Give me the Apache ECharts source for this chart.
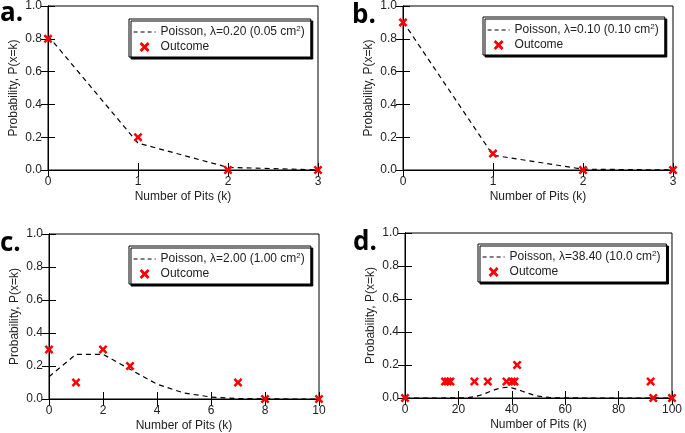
<!DOCTYPE html>
<html>
<head>
<meta charset="utf-8">
<script src="https://cdn.jsdelivr.net/npm/echarts@6/dist/echarts.min.js"></script>
<style>
html,body{margin:0;padding:0;background:#fff;}
#chart{width:685px;height:433px;}
</style>
</head>
<body>
<div id="chart"></div>
<script>
// ---- Data ----
const panelLabels = ['a.', 'b.', 'c.', 'd.'];
const poissonNames = [
  ['Poisson, λ=0.20 (0.05 cm', ')'],
  ['Poisson, λ=0.10 (0.10 cm', ')'],
  ['Poisson, λ=2.00 (1.00 cm', ')'],
  ['Poisson, λ=38.40 (10.0 cm', ')']
];
const yTicks = [0, 0.2, 0.4, 0.6, 0.8, 1.0];

const aK = [0, 1, 2, 3];
const aPoisson = [0.819, 0.164, 0.016, 0.001];
const aOutK = [0, 1, 2, 3];
const aOutcome = [0.8, 0.2, 0.0, 0.0];

const bK = [0, 1, 2, 3];
const bPoisson = [0.905, 0.090, 0.005, 0.0];
const bOutK = [0, 1, 2, 3];
const bOutcome = [0.9, 0.1, 0.0, 0.0];

const cK = [0, 1, 2, 3, 4, 5, 6, 7, 8, 9, 10];
const cPoisson = [0.135, 0.271, 0.271, 0.180, 0.090, 0.036, 0.012, 0.003, 0.001, 0.0, 0.0];
const cOutK = [0, 1, 2, 3, 7, 8, 10];
const cOutcome = [0.3, 0.1, 0.3, 0.2, 0.1, 0.0, 0.0];

const dK = [0, 10, 20, 22, 24, 26, 28, 30, 32, 34, 36, 38, 40, 42, 44, 46, 48, 50, 52, 54, 56, 58, 60, 70, 80, 90, 100];
const dPoisson = [0.0, 0.0, 0.0004, 0.0013, 0.0036, 0.0081, 0.0159, 0.0269, 0.0400, 0.0526, 0.0615, 0.0645, 0.0610, 0.0522, 0.0407, 0.0290, 0.0190, 0.0114, 0.0063, 0.0033, 0.0016, 0.0007, 0.0003, 0.0, 0.0, 0.0, 0.0];
const dOutK = [0, 15, 16, 17, 26, 31, 38, 40, 41, 42, 92, 93, 100];
const dOutcome = [0.0, 0.1, 0.1, 0.1, 0.1, 0.1, 0.1, 0.1, 0.1, 0.2, 0.1, 0.0, 0.0];

const xRanges = [[0, 3, 1], [0, 3, 1], [0, 10, 2], [0, 100, 20]];

// ---- Layout (positions / styles) ----
const grids = [
  {left: 48, top: 5, width: 270, height: 165},
  {left: 403, top: 5, width: 270, height: 165},
  {left: 49, top: 234, width: 270, height: 165},
  {left: 405, top: 233, width: 269, height: 165}
];
const legendPos = [
  {left: 129, top: 19},
  {left: 483, top: 17},
  {left: 129, top: 246},
  {left: 478, top: 244}
];
const labelPos = [[0, 25], [352, 27], [0, 255], [353, 254]];

const pairs = [
  [aK, aPoisson, aOutK, aOutcome],
  [bK, bPoisson, bOutK, bOutcome],
  [cK, cPoisson, cOutK, cOutcome],
  [dK, dPoisson, dOutK, dOutcome]
];

const FONT = 'Liberation Sans, Arial, sans-serif';
const crossPath = 'path://M0,2 L2,0 L5,3 L8,0 L10,2 L7,5 L10,8 L8,10 L5,7 L2,10 L0,8 L3,5 Z';

const option = {
  animation: false,
  backgroundColor: '#fff',
  grid: [], xAxis: [], yAxis: [], series: [], legend: [], graphic: []
};

function zip(xs, ys) { return xs.map((x, i) => [x, ys[i]]); }

grids.forEach((g, i) => {
  option.grid.push(Object.assign({show: true, borderColor: '#000', borderWidth: 1, backgroundColor: 'transparent'}, g));
  const [xmin, xmax, xint] = xRanges[i];
  const tickStyle = {show: true, inside: true, length: 7, lineStyle: {color: '#000', width: 1}};
  option.xAxis.push({
    type: 'value', gridIndex: i, min: xmin, max: xmax, interval: xint, position: 'bottom',
    name: 'Number of Pits (k)', nameLocation: 'middle', nameGap: 21,
    nameTextStyle: {fontFamily: FONT, fontSize: 12, color: '#222'},
    axisLine: {show: true, onZero: false, lineStyle: {color: '#000', width: 1}},
    axisTick: tickStyle, splitLine: {show: false},
    axisLabel: {fontFamily: FONT, fontSize: 12, color: '#222', margin: 6, showMinLabel: true, showMaxLabel: true}
  });
  option.xAxis.push({
    type: 'value', gridIndex: i, min: xmin, max: xmax, interval: xint, position: 'top',
    axisLine: {show: true, lineStyle: {color: '#000', width: 1}},
    axisTick: tickStyle, splitLine: {show: false}, axisLabel: {show: false}
  });
  option.yAxis.push({
    type: 'value', gridIndex: i, min: 0, max: 1, interval: 0.2, position: 'left',
    name: 'Probability, P(x=k)', nameLocation: 'middle', nameGap: 28,
    nameTextStyle: {fontFamily: FONT, fontSize: 12, color: '#222'},
    axisLine: {show: true, onZero: false, lineStyle: {color: '#000', width: 1}},
    axisTick: tickStyle, splitLine: {show: false},
    axisLabel: {fontFamily: FONT, fontSize: 12, color: '#222', margin: 6, formatter: v => v.toFixed(1)}
  });
  option.yAxis.push({
    type: 'value', gridIndex: i, min: 0, max: 1, interval: 0.2, position: 'right',
    axisLine: {show: true, lineStyle: {color: '#000', width: 1}},
    axisTick: tickStyle, splitLine: {show: false}, axisLabel: {show: false}
  });

  const [k, p, ok, o] = pairs[i];
  const pname = poissonNames[i][0] + '2' + poissonNames[i][1];
  const oname = 'Outcome' + '\u200b'.repeat(i);
  option.series.push({
    type: 'line', name: pname, xAxisIndex: i * 2, yAxisIndex: i * 2,
    data: zip(k, p), symbol: 'none', showSymbol: false,
    itemStyle: {color: '#000'},
    lineStyle: {color: '#000', width: 1.2, type: [5, 4]}, z: 2
  });
  option.series.push({
    type: 'scatter', name: oname, xAxisIndex: i * 2, yAxisIndex: i * 2,
    data: zip(ok, o), symbol: crossPath, symbolSize: 9, clip: false,
    itemStyle: {color: '#ff0000', opacity: 1}, z: 3
  });
  const nm = poissonNames[i];
  option.legend.push({
    left: legendPos[i].left, top: legendPos[i].top, orient: 'vertical',
    data: [
      {name: pname, itemStyle: {color: 'rgba(0,0,0,0)', borderWidth: 0, opacity: 0},
       lineStyle: {color: '#000', width: 1.2, type: [4, 3]}},
      {name: oname, itemStyle: {color: '#ff0000', opacity: 1}}
    ],
    backgroundColor: '#fff', borderColor: '#000', borderWidth: 1,
    shadowColor: '#000', shadowOffsetX: 2, shadowOffsetY: 2, shadowBlur: 0,
    padding: [6, 6, 4, 4], itemGap: 3, itemWidth: 22, itemHeight: 10,
    selectedMode: false,
    formatter: function (name) {
      if (name === pname) return '{t|' + nm[0] + '}{s|2}{t|' + nm[1] + '}';
      return '{t|Outcome}';
    },
    textStyle: {
      fontFamily: FONT, fontSize: 12, color: '#222', padding: [0, 0, 0, 0],
      rich: {
        t: {fontFamily: FONT, fontSize: 12, color: '#222'},
        s: {fontFamily: FONT, fontSize: 8, color: '#222', verticalAlign: 'top', padding: [0, 0, 6, 0]}
      }
    }
  });
  option.graphic.push({
    type: 'text', left: labelPos[i][0], top: labelPos[i][1] - 24,
    style: {text: panelLabels[i], font: 'bold 26px "Open Sans", sans-serif', fill: '#000'}
  });
});

const chart = echarts.init(document.getElementById('chart'), null, {renderer: 'canvas'});
chart.setOption(option);
</script>
</body>
</html>
